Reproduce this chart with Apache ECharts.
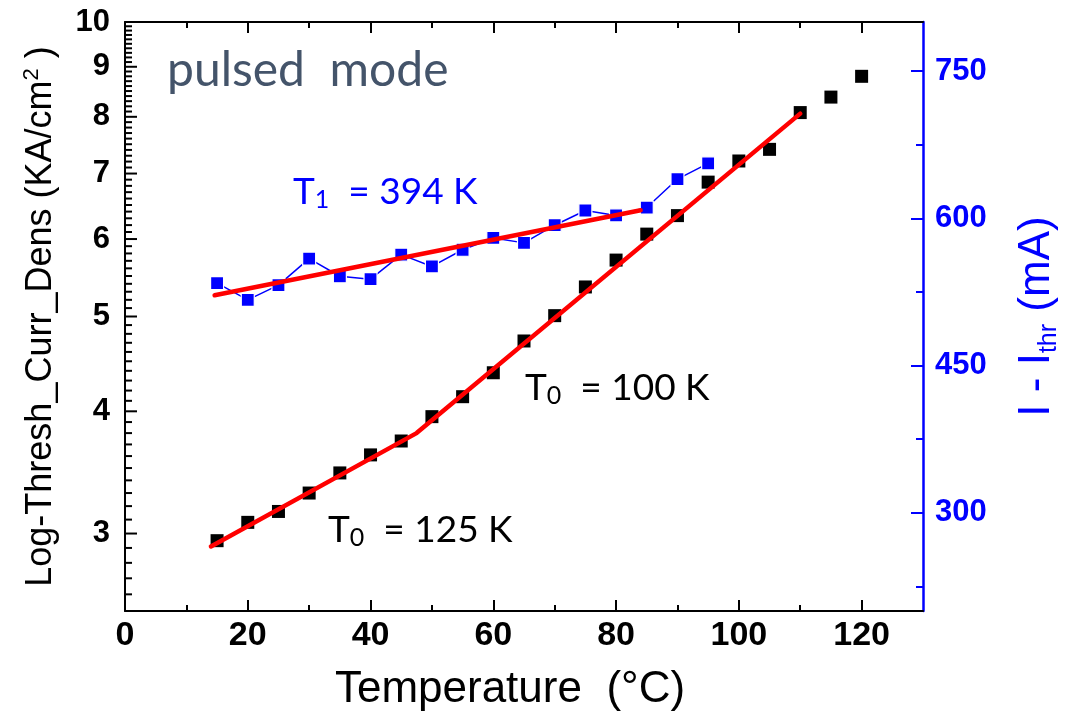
<!DOCTYPE html>
<html>
<head>
<meta charset="utf-8">
<script src="https://cdn.jsdelivr.net/npm/echarts@6/dist/echarts.min.js"></script>
<style>
html,body{margin:0;padding:0;background:#fff;}
#main{width:1081px;height:725px;}
</style>
</head>
<body>
<div id="main"></div>
<script>
// ---- data ----
const tempsBlack = [15,20,25,30,35,40,45,50,55,60,65,70,75,80,85,90,95,100,105,110,115,120];
const densBlack  = [2.95,3.08,3.16,3.30,3.46,3.61,3.73,3.95,4.14,4.38,4.72,5.01,5.36,5.71,6.07,6.34,6.86,7.21,7.41,8.08,8.38,8.80];
const tempsBlue  = [15,20,25,30,35,40,45,50,55,60,65,70,75,80,85,90,95];
const currBlue   = [534,517,532,559,541,538,563,551,568,580,575,593,608,603,611,640,656];
const fitT0T     = [14,47.5,110];
const fitT0Val   = [2.91,3.80,8.06];
const fitT1T     = [14.6,84];
const fitT1Val   = [521.6,608.2];
// ---- ticks / labels ----
const xMajor = [0,20,40,60,80,100,120];
const xMinor = [10,30,50,70,90,110];
const xTopMajor = [20,40,60,80,100,120];
const yLeftMajor = [3,4,5,6,7,8,9,10];
const yLeftMinor = [];
for (let k = 25; k < 100; k++) { if (k % 10 !== 0) yLeftMinor.push(k / 10); }
const yRightMajor = [300,450,600,750];
const yRightMinor = [225,375,525,675];
const yMin = 2.5, yMax = 10;

const pair = (xs, ys) => xs.map((x, i) => [x, ys[i]]);
const BLUE = '#0000ff';
const labelFont = '"Liberation Sans", Arial, sans-serif';
const narrowFont = '"Liberation Sans Narrow", "Arial Narrow", "Liberation Sans", sans-serif';
const annFont = 'Lato, "Open Sans", sans-serif';
const PLOT_W = 798;

function xAx(grid, pos, major, ticks, len, showLine, showLabel, name) {
  return {
    type: 'value', position: pos, min: 0, max: 130, gridIndex: grid,
    splitLine: {show: false},
    axisLine: {show: showLine, onZero: false, lineStyle: {color: '#000', width: 2}},
    axisTick: {show: ticks.length > 0, inside: true, length: len, customValues: ticks, lineStyle: {color: '#000', width: 2}},
    axisLabel: showLabel ? {show: true, customValues: major, color: '#000', fontFamily: narrowFont, fontWeight: 'bold', fontSize: 34, margin: 8} : {show: false},
    name: name || '', nameLocation: 'middle', nameGap: 57,
    nameTextStyle: {color: '#000', fontFamily: labelFont, fontSize: 44, padding: [0, 28, 0, 0]}
  };
}

// tick marks of the log axis, placed through the log axis' own scale
function logTicks(values, len) {
  return {
    type: 'custom', coordinateSystem: 'cartesian2d', xAxisIndex: 0, yAxisIndex: 0,
    silent: true, clip: false, zlevel: 1, z: 10,
    dimensions: ['x', 'y'], encode: {x: 0, y: 1},
    data: values.map(v => [1, v]),
    renderItem: function (params, api) {
      const p = api.coord([0, api.value(1)]);
      return {type: 'line', shape: {x1: p[0], y1: p[1], x2: p[0] + len, y2: p[1]},
        style: {stroke: '#000', lineWidth: 2, fill: null}};
    }
  };
}

const gridRect = {left: 125, top: 22, width: PLOT_W, height: 589, containLabel: false, outerBoundsMode: 'none'};
const g = () => Object.assign({}, gridRect);

const chart = echarts.init(document.getElementById('main'), null, {renderer: 'canvas'});
chart.setOption({
  animation: false,
  backgroundColor: '#fff',
  grid: [g(), g()],
  xAxis: [
    xAx(0, 'bottom', xMajor, xMajor, 11, true, true, 'Temperature  (°C)'),
    xAx(0, 'top', xTopMajor, xTopMajor, 11, true, false),
    xAx(1, 'bottom', xMajor, xMinor, 6, false, false),
    xAx(1, 'top', xTopMajor, xMinor, 6, false, false)
  ],
  yAxis: [
    {
      type: 'log', logBase: 10, min: yMin, max: yMax, position: 'left', gridIndex: 0,
      splitLine: {show: false},
      axisLine: {show: true, onZero: false, lineStyle: {color: '#000', width: 2}},
      axisTick: {show: false},
      axisLabel: {show: true, customValues: yLeftMajor, color: '#000', fontFamily: labelFont, fontWeight: 'bold', fontSize: 31, margin: 15},
      name: 'Log-Thresh_Curr_Dens (KA/cm{sup|2} )', nameLocation: 'middle', nameRotate: 90, nameGap: 64,
      nameTextStyle: {color: '#000', fontFamily: labelFont, fontSize: 36, lineHeight: 40,
        rich: {sup: {fontSize: 22, fontFamily: labelFont, color: '#000', verticalAlign: 'top', lineHeight: 40}}}
    },
    {
      type: 'value', min: 200, max: 800, position: 'right', gridIndex: 0,
      splitLine: {show: false},
      axisLine: {show: true, onZero: false, lineStyle: {color: BLUE, width: 2.5}},
      axisTick: {show: true, inside: true, length: 12, customValues: yRightMajor, lineStyle: {color: BLUE, width: 2}},
      axisLabel: {show: true, customValues: yRightMajor, color: BLUE, fontFamily: labelFont, fontWeight: 'bold', fontSize: 31, margin: 12},
      name: 'I - I{sub|thr} (mA)', nameLocation: 'middle', nameRotate: 90, nameGap: 89,
      nameTextStyle: {color: BLUE, fontFamily: labelFont, fontSize: 44, lineHeight: 50,
        rich: {sub: {fontSize: 25, fontFamily: labelFont, color: BLUE, verticalAlign: 'bottom', lineHeight: 50}}}
    },
    {
      type: 'value', min: 200, max: 800, position: 'right', gridIndex: 1,
      splitLine: {show: false}, axisLine: {show: false, onZero: false},
      axisTick: {show: true, inside: true, length: 7, customValues: yRightMinor, lineStyle: {color: BLUE, width: 2}},
      axisLabel: {show: false}
    }
  ],
  series: [
    {
      name: 'density', type: 'scatter', xAxisIndex: 0, yAxisIndex: 0,
      symbol: 'rect', symbolSize: 13, z: 2,
      itemStyle: {color: '#000', opacity: 1},
      data: pair(tempsBlack, densBlack)
    },
    {
      name: 'current', type: 'line', xAxisIndex: 0, yAxisIndex: 1,
      symbol: 'rect', symbolSize: 13, showSymbol: true, z: 3,
      lineStyle: {color: BLUE, width: 1.5},
      itemStyle: {color: BLUE, borderColor: '#fff', borderWidth: 1.2, opacity: 1},
      data: pair(tempsBlue, currBlue)
    },
    {
      name: 'fitT0', type: 'line', xAxisIndex: 0, yAxisIndex: 0,
      symbol: 'none', z: 5, lineStyle: {color: '#ff0000', width: 4.5, cap: 'round', join: 'round'},
      data: pair(fitT0T, fitT0Val)
    },
    {
      name: 'fitT1', type: 'line', xAxisIndex: 0, yAxisIndex: 1,
      symbol: 'none', z: 5, lineStyle: {color: '#ff0000', width: 4.5, cap: 'round'},
      data: pair(fitT1T, fitT1Val)
    },
    logTicks(yLeftMinor, 7),
    logTicks(yLeftMajor.filter(v => v < yMax), 12)
  ],
  graphic: [
    {type: 'text', left: 167, top: 47, z: 10,
      style: {text: 'pulsed  mode', fill: '#44546a', font: '48px ' + annFont}},
    {type: 'text', left: 293, top: 174, z: 10,
      style: {text: 'T{s|1}  = 394 K', fill: BLUE, font: '37px ' + annFont,
        rich: {s: {fontSize: 25, fontFamily: 'Lato, sans-serif', fill: BLUE, verticalAlign: 'bottom', padding: [14, 0, 0, 0]}}}},
    {type: 'text', left: 525, top: 370, z: 10,
      style: {text: 'T{s|0}  = 100 K', fill: '#000', font: '37px ' + annFont,
        rich: {s: {fontSize: 25, fontFamily: 'Lato, sans-serif', fill: '#000', verticalAlign: 'bottom', padding: [14, 0, 0, 0]}}}},
    {type: 'text', left: 328, top: 512, z: 10,
      style: {text: 'T{s|0}  = 125 K', fill: '#000', font: '37px ' + annFont,
        rich: {s: {fontSize: 25, fontFamily: 'Lato, sans-serif', fill: '#000', verticalAlign: 'bottom', padding: [14, 0, 0, 0]}}}}
  ]
});
</script>
</body>
</html>
